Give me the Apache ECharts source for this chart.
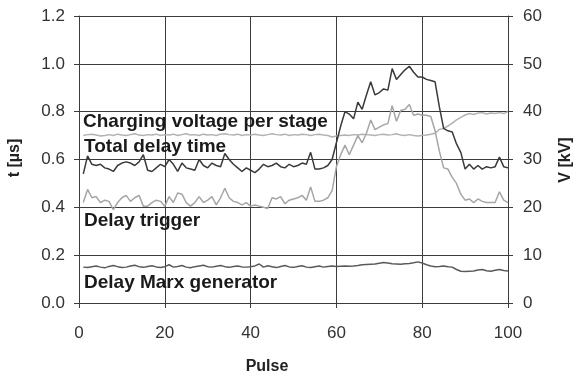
<!DOCTYPE html>
<html>
<head>
<meta charset="utf-8">
<script src="https://cdn.jsdelivr.net/npm/echarts@6/dist/echarts.min.js"></script>
<style>
  html, body { margin: 0; padding: 0; background: #fff; }
  #chart { width: 573px; height: 378px; }
</style>
</head>
<body>
<div id="chart"></div>
<script>
// Pulse numbers 1..100
const pulses = [
  1,2,3,4,5,6,7,8,9,10, 11,12,13,14,15,16,17,18,19,20,
  21,22,23,24,25,26,27,28,29,30, 31,32,33,34,35,36,37,38,39,40,
  41,42,43,44,45,46,47,48,49,50, 51,52,53,54,55,56,57,58,59,60,
  61,62,63,64,65,66,67,68,69,70, 71,72,73,74,75,76,77,78,79,80,
  81,82,83,84,85,86,87,88,89,90, 91,92,93,94,95,96,97,98,99,100
];

// Total delay time, µs (left axis)
const totalDelay = [
  0.54, 0.615, 0.58, 0.575, 0.58, 0.565, 0.56, 0.55, 0.575, 0.585,
  0.59, 0.585, 0.575, 0.59, 0.62, 0.555, 0.55, 0.565, 0.58, 0.57,
  0.6, 0.58, 0.55, 0.585, 0.565, 0.56, 0.555, 0.6, 0.575, 0.565,
  0.585, 0.575, 0.57, 0.625, 0.6, 0.58, 0.565, 0.55, 0.565, 0.555,
  0.545, 0.56, 0.58, 0.57, 0.575, 0.585, 0.57, 0.565, 0.58, 0.57,
  0.575, 0.585, 0.58, 0.63, 0.56, 0.56, 0.565, 0.575, 0.6, 0.67,
  0.74, 0.8, 0.79, 0.77, 0.84, 0.81, 0.87, 0.925, 0.87, 0.88,
  0.895, 0.89, 0.98, 0.935, 0.955, 0.975, 0.99, 0.965, 0.945, 0.945,
  0.935, 0.93, 0.925, 0.82, 0.73, 0.72, 0.715, 0.665, 0.63, 0.56,
  0.58, 0.56, 0.575, 0.56, 0.57, 0.565, 0.57, 0.61, 0.57, 0.565
];

// Delay trigger, µs (left axis)
const delayTrigger = [
  0.42, 0.475, 0.44, 0.445, 0.42, 0.43, 0.425, 0.39, 0.42, 0.44,
  0.45, 0.425, 0.44, 0.45, 0.405, 0.405, 0.42, 0.43, 0.425, 0.405,
  0.445, 0.42, 0.46, 0.455, 0.42, 0.405, 0.42, 0.445, 0.42, 0.43,
  0.445, 0.41, 0.44, 0.48, 0.44, 0.425, 0.42, 0.41, 0.42, 0.405,
  0.41, 0.405, 0.4, 0.395, 0.44, 0.435, 0.445, 0.415, 0.43, 0.435,
  0.44, 0.45, 0.43, 0.485, 0.425, 0.425, 0.43, 0.44, 0.47, 0.57,
  0.62, 0.66, 0.62, 0.66, 0.7, 0.67, 0.71, 0.765, 0.725, 0.735,
  0.745, 0.75, 0.825, 0.76, 0.805, 0.81, 0.83, 0.785, 0.79, 0.785,
  0.785, 0.78, 0.72, 0.635, 0.565, 0.56, 0.525, 0.5, 0.455, 0.43,
  0.435, 0.42, 0.435, 0.425, 0.42, 0.42, 0.42, 0.465, 0.43, 0.42
];

// Charging voltage per stage, kV (right axis)
const chargingVoltage = [
  35.0, 35.2, 35.3, 35.1, 34.9, 35.0, 35.2, 35.0, 35.3, 35.1,
  35.0, 35.2, 35.4, 35.1, 35.0, 35.2, 35.1, 35.3, 35.0, 35.2,
  35.1, 35.3, 35.0, 35.2, 35.4, 35.1, 35.2, 35.0, 35.3, 35.1,
  35.2, 35.0, 35.3, 35.4, 35.2, 35.1, 35.3, 35.0, 35.2, 35.1,
  35.3, 35.1, 35.0, 35.2, 35.4, 35.2, 35.1, 35.3, 35.0, 35.2,
  35.1, 35.3, 35.2, 35.0, 35.2, 35.3, 35.1, 35.0, 34.7, 34.9,
  35.0, 35.1, 35.0, 35.2, 35.1, 35.3, 35.2, 35.1, 35.0, 35.2,
  35.3, 35.1, 35.2, 35.4, 35.1, 35.0, 35.2, 35.0, 34.9, 35.0,
  35.1, 35.3, 35.5, 36.3, 36.5, 37.0, 37.6, 38.3, 38.8, 39.3,
  39.6, 39.4, 39.7, 39.8, 39.5, 39.7, 39.6, 39.8, 39.6, 40.0
];

// Delay Marx generator, µs (left axis)
const delayMarx = [
  0.15, 0.148, 0.152, 0.155, 0.15, 0.147, 0.153, 0.157, 0.152, 0.148,
  0.15, 0.155, 0.158, 0.152, 0.149, 0.153, 0.156, 0.151, 0.148, 0.152,
  0.16, 0.15, 0.153, 0.157, 0.15, 0.147, 0.152, 0.155, 0.158, 0.152,
  0.15, 0.154, 0.157, 0.152, 0.149, 0.153, 0.155, 0.151, 0.15, 0.152,
  0.155, 0.163, 0.15, 0.156, 0.152, 0.148, 0.153, 0.157, 0.151, 0.149,
  0.153, 0.156, 0.15, 0.148, 0.152, 0.155, 0.15, 0.153, 0.155, 0.153,
  0.154, 0.155, 0.154, 0.155, 0.157, 0.16, 0.161, 0.162, 0.163, 0.166,
  0.169, 0.167, 0.164, 0.163, 0.162, 0.164, 0.165, 0.168, 0.172, 0.167,
  0.16, 0.155, 0.152, 0.153, 0.155, 0.152, 0.15, 0.14, 0.133, 0.132,
  0.133, 0.134, 0.138, 0.14, 0.135, 0.133, 0.137, 0.14, 0.136, 0.134
];

// Axis tick labels
const pulseTicks = [0, 20, 40, 60, 80, 100];
const timeTicks = ['0.0', '0.2', '0.4', '0.6', '0.8', '1.0', '1.2'];
const voltTicks = ['0', '10', '20', '30', '40', '50', '60'];

const FONT = '"Liberation Sans", Arial, Helvetica, sans-serif';
const GRID_COLOR = '#3c3c3c';
const pair = arr => pulses.map((p, i) => [p, arr[i]]);

const chart = echarts.init(document.getElementById('chart'), null, { renderer: 'canvas' });

const tickCommon = { show: true, inside: false, length: 5, lineStyle: { color: GRID_COLOR, width: 1 } };
const labelCommon = { color: '#333', fontFamily: FONT, fontSize: 17 };

chart.setOption({
  animation: false,
  backgroundColor: '#fff',
  grid: { left: 79, right: 65, top: 16, bottom: 75, containLabel: false },
  xAxis: {
    type: 'value', min: 0, max: 100, interval: 20,
    axisLine: { show: true, lineStyle: { color: GRID_COLOR, width: 1 } },
    axisTick: tickCommon,
    axisLabel: Object.assign({}, labelCommon, {
      margin: 22,
      formatter: v => (pulseTicks.includes(v) ? String(v) : '')
    }),
    splitLine: { show: true, lineStyle: { color: GRID_COLOR, width: 1 } }
  },
  yAxis: [
    {
      type: 'value', min: 0, max: 1.2, interval: 0.2, position: 'left',
      axisLine: { show: true, lineStyle: { color: GRID_COLOR, width: 1 } },
      axisTick: tickCommon,
      axisLabel: Object.assign({}, labelCommon, {
        margin: 14,
        formatter: v => timeTicks[Math.round(v / 0.2)]
      }),
      splitLine: { show: true, lineStyle: { color: GRID_COLOR, width: 1 } }
    },
    {
      type: 'value', min: 0, max: 60, interval: 10, position: 'right',
      axisLine: { show: true, lineStyle: { color: GRID_COLOR, width: 1 } },
      axisTick: tickCommon,
      axisLabel: Object.assign({}, labelCommon, {
        margin: 15,
        formatter: v => voltTicks[Math.round(v / 10)]
      }),
      splitLine: { show: false }
    }
  ],
  series: [
    {
      name: 'Charging voltage per stage', type: 'line', yAxisIndex: 1,
      data: pair(chargingVoltage), showSymbol: false, symbol: 'none',
      lineStyle: { color: '#b2b2b2', width: 1.5 }
    },
    {
      name: 'Delay trigger', type: 'line', yAxisIndex: 0,
      data: pair(delayTrigger), showSymbol: false, symbol: 'none',
      lineStyle: { color: '#a6a6a6', width: 1.5 }
    },
    {
      name: 'Delay Marx generator', type: 'line', yAxisIndex: 0,
      data: pair(delayMarx), showSymbol: false, symbol: 'none',
      lineStyle: { color: '#5a5a5a', width: 1.5 }
    },
    {
      name: 'Total delay time', type: 'line', yAxisIndex: 0,
      data: pair(totalDelay), showSymbol: false, symbol: 'none',
      lineStyle: { color: '#3a3a3a', width: 1.5 }
    }
  ],
  graphic: [
    // axis titles
    { type: 'text', x: 267, y: 367, style: { text: 'Pulse', fill: '#222', font: 'bold 16px ' + FONT, align: 'center', verticalAlign: 'middle' } },
    { type: 'text', x: 15, y: 158, rotation: Math.PI / 2, style: { text: 't [µs]', fill: '#222', font: 'bold 16px ' + FONT, align: 'center', verticalAlign: 'middle' } },
    { type: 'text', x: 566, y: 160, rotation: Math.PI / 2, style: { text: 'V [kV]', fill: '#222', font: 'bold 16px ' + FONT, align: 'center', verticalAlign: 'middle' } },
    // in-plot series labels
    { type: 'text', x: 83, y: 122, z: 10, style: { text: 'Charging voltage per stage', fill: '#1a1a1a', font: 'bold 19px ' + FONT, verticalAlign: 'middle' } },
    { type: 'text', x: 84, y: 147, z: 10, style: { text: 'Total delay time', fill: '#1a1a1a', font: 'bold 19px ' + FONT, verticalAlign: 'middle' } },
    { type: 'text', x: 84, y: 221, z: 10, style: { text: 'Delay trigger', fill: '#1a1a1a', font: 'bold 19px ' + FONT, verticalAlign: 'middle' } },
    { type: 'text', x: 84, y: 283, z: 10, style: { text: 'Delay Marx generator', fill: '#1a1a1a', font: 'bold 19px ' + FONT, verticalAlign: 'middle' } }
  ]
});
</script>
</body>
</html>
